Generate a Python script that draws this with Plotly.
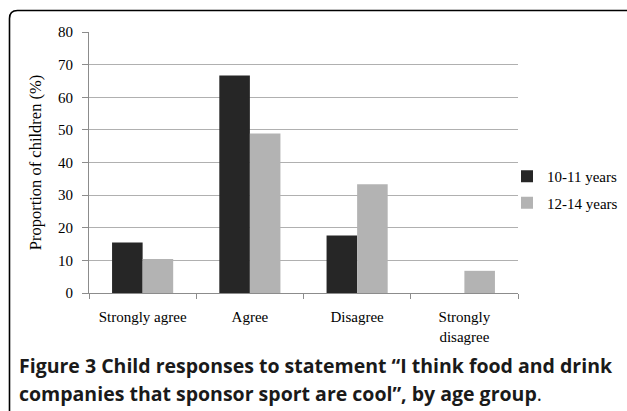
import plotly.graph_objects as go

categories = ["Strongly agree", "Agree", "Disagree", "Strongly<br>disagree"]
age_10_11 = [15.5, 66.7, 17.6, 0]
age_12_14 = [10.4, 48.9, 33.3, 6.8]
series_names = ["10-11 years", "12-14 years"]
y_ticks = [0, 10, 20, 30, 40, 50, 60, 70, 80]
caption_line1 = "Figure 3 Child responses to statement “I think food and drink"
caption_line2 = "companies that sponsor sport are cool”, by age group"

W, H = 627, 411
L, R, T, B = 89, 109, 32, 118
PW, PH = W - L - R, H - T - B

def px_x(p):
    return (p - L) / PW

def px_y(p):
    return (H - B - p) / PH

serif = "Liberation Serif"

fig = go.Figure()
fig.add_trace(go.Bar(x=categories, y=age_10_11, name=series_names[0],
                     marker=dict(color="#262626", line=dict(width=0)),
                     legendgroup="a"))
fig.add_trace(go.Bar(x=categories, y=age_12_14, name=series_names[1],
                     marker=dict(color="#b3b3b3", line=dict(width=0)),
                     legendgroup="b"))

# Rounded frame (top-left corner visible, right and bottom run off the picture)
x0, yt = px_x(9.5), px_y(10.5)
xr, yb = px_x(640), px_y(430)
rx, ry = 8 / PW, 8 / PH
fig.add_shape(type="path", xref="paper", yref="paper",
              path=f"M {x0},{yb} L {x0},{yt - ry} Q {x0},{yt} {x0 + rx},{yt} L {xr},{yt}",
              line=dict(color="black", width=1.6))

fig.add_annotation(xref="paper", yref="paper", x=px_x(17), y=px_y(365),
                   xanchor="left", yanchor="middle", showarrow=False,
                   text="<b>" + caption_line1 + "</b>",
                   font=dict(family="Open Sans", size=19.5, color="#1a1a1a"))
fig.add_annotation(xref="paper", yref="paper", x=px_x(17), y=px_y(393),
                   xanchor="left", yanchor="middle", showarrow=False,
                   text="<b>" + caption_line2 + "</b>.",
                   font=dict(family="Open Sans", size=19.5, color="#1a1a1a"))

fig.update_layout(
    width=W, height=H,
    margin=dict(l=L, r=R, t=T, b=B, autoexpand=False),
    paper_bgcolor="white", plot_bgcolor="white",
    barmode="group", bargap=0.43, bargroupgap=0,
    showlegend=True,
    legend=dict(xref="container", yref="container", x=507 / W, y=1 - 160 / H,
                xanchor="left", yanchor="top",
                font=dict(family=serif, size=15, color="black"),
                tracegroupgap=4, bgcolor="rgba(0,0,0,0)"),
    xaxis=dict(showline=True, linecolor="#8c8c8c", linewidth=1,
               ticks="outside", tickson="boundaries", ticklen=5, tickcolor="#8c8c8c",
               tickfont=dict(family=serif, size=15, color="black"),
               ticklabelstandoff=10, showgrid=False),
    yaxis=dict(range=[0, 80], tickvals=y_ticks, showgrid=True, gridcolor="#b0b0b0",
               gridwidth=1, showline=True, linecolor="#8c8c8c", linewidth=1,
               ticks="outside", ticklen=6, tickcolor="#8c8c8c", zeroline=False,
               tickfont=dict(family=serif, size=15, color="black"),
               ticklabelstandoff=6,
               title=dict(text="Proportion of children (%)", standoff=12,
                          font=dict(family=serif, size=16.5, color="black"))),
)

fig.write_html("out.html", config={"displayModeBar": False},
               post_script="document.body.style.margin='0';document.body.style.overflow='hidden';")
